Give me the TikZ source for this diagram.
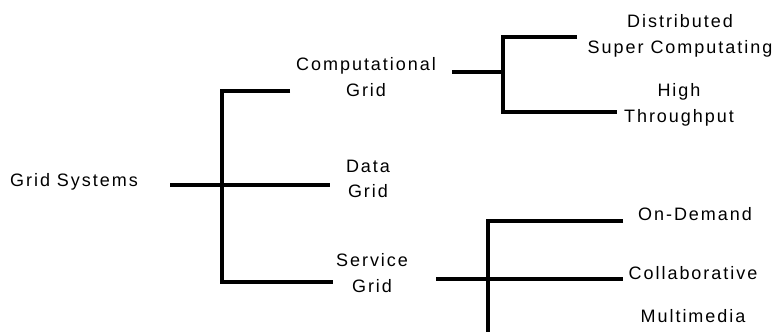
\documentclass[tikz,border=0pt]{standalone}
\usepackage{fontspec}
\setmainfont{Liberation Sans}[LetterSpace=11]
\usepackage{tikz}

\tikzset{
  lbl/.style={font=\fontsize{18}{25.5}\selectfont, align=center, inner sep=0pt},
  branch/.style={black, line width=3.2pt}
}

\begin{document}
\begin{tikzpicture}[x=1pt, y=-1pt]
\useasboundingbox (0,0) rectangle (774,332);

% labels
\path (74,182) node[lbl] (gs) {Grid Systems};
\path (366,77) node[lbl] (cg) {Computational\\Grid};
\path (368,179) node[lbl] (dg) {Data\\Grid};
\path (372,273) node[lbl] (sg) {Service\\Grid};

\path (680,36) node[lbl] (dsc) {Distributed\\Super Computating};
\path (679,105) node[lbl] (ht) {High\\Throughput};

\path (695,214) node[lbl] (od) {On-Demand};
\path (693,273) node[lbl] (co) {Collaborative};
\path (693,316) node[lbl] (mm) {Multimedia};

% line ends and junctions
\coordinate (gs-r) at (170,185);
\coordinate (t1) at (222,185);
\coordinate (cg-l) at (290,91);
\coordinate (dg-l) at (330,185);
\coordinate (sg-l) at (333,282);

\coordinate (cg-r) at (452,72);
\coordinate (t2) at (503,72);
\coordinate (dsc-l) at (577,37);
\coordinate (ht-l) at (617,112);

\coordinate (sg-r) at (436,279);
\coordinate (t3) at (488,279);
\coordinate (od-l) at (623,221);
\coordinate (co-l) at (623,279);
\coordinate (mm-t) at (488,332);

% first level
\draw[branch] (gs-r) -- (dg-l);
\draw[branch] (cg-l) -| (t1) |- (sg-l);

% computational grid
\draw[branch] (cg-r) -- (t2);
\draw[branch] (dsc-l) -| (t2) |- (ht-l);

% service grid
\draw[branch] (sg-r) -- (co-l);
\draw[branch] (od-l) -| (t3) -- (mm-t);
\end{tikzpicture}
\end{document}
